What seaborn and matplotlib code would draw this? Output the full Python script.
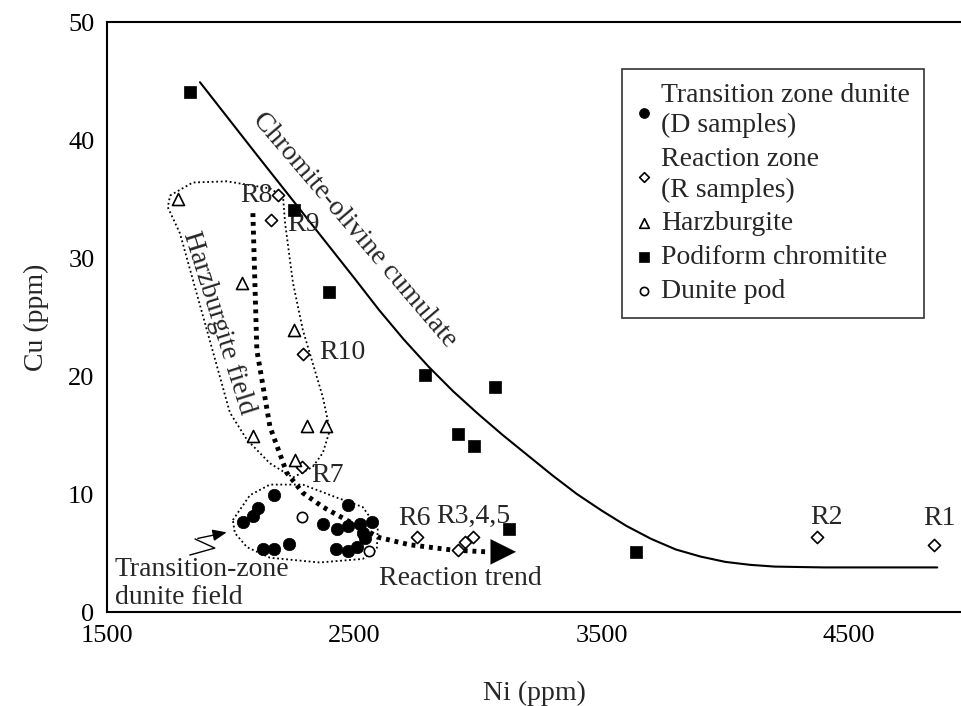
import numpy as np
import pandas as pd
import seaborn as sns
import matplotlib.pyplot as plt

sns.set_theme(style='white')
plt.rcParams['font.family'] = ['Liberation Serif', 'DejaVu Serif']

# ---- data ----
dunite_ni = [2049, 2090, 2110, 2175, 2130, 2175, 2236, 2373, 2474, 2430,
             2474, 2522, 2571, 2534, 2543, 2425, 2474, 2510]
dunite_cu = [7.6, 8.1, 8.8, 9.9, 5.3, 5.3, 5.8, 7.5, 9.1, 7.0,
             7.3, 7.5, 7.6, 6.7, 6.3, 5.3, 5.2, 5.5]

reaction_ni = [2191, 2163, 2292, 2288, 2753, 2918, 2946, 2979, 4369, 4845]
reaction_cu = [35.3, 33.2, 21.9, 12.3, 6.4, 5.25, 5.9, 6.4, 6.4, 5.7]
reaction_names = ['R8', 'R9', 'R10', 'R7', 'R6', '', '', '', 'R2', 'R1']

harz_ni = [1787, 2045, 2255, 2308, 2385, 2090, 2260]
harz_cu = [35.0, 27.9, 23.9, 15.8, 15.8, 14.9, 12.9]

chromitite_ni = [1835, 2256, 2397, 2785, 3068, 2918, 2983, 3124, 3641]
chromitite_cu = [44.1, 34.1, 27.1, 20.1, 19.1, 15.1, 14.1, 7.0, 5.1]

pod_ni = [2288, 2559]
pod_cu = [8.05, 5.2]

# chromite-olivine cumulate curve
curve_ni = [1876, 2100, 2300, 2500, 2600, 2700, 2800, 2900, 3000, 3100,
            3200, 3300, 3400, 3500, 3600, 3700, 3800, 3900, 4000, 4100,
            4200, 4400, 4857]
curve_cu = [44.9, 38.9, 33.6, 28.3, 25.6, 23.1, 20.8, 18.7, 16.8, 15.0,
            13.3, 11.6, 10.0, 8.6, 7.3, 6.2, 5.3, 4.7, 4.25, 4.0,
            3.85, 3.78, 3.78]

# reaction trend path
trend_ni = [2090, 2106, 2159, 2227, 2292, 2373, 2494, 2603, 2724, 2898, 3035]
trend_cu = [33.8, 22.2, 15.7, 11.8, 10.1, 8.9, 7.5, 6.3, 5.7, 5.25, 5.1]

# field outlines
harz_field_ni = [1755, 1847, 1985, 2159, 2212, 2220, 2252, 2292, 2373, 2401,
                 2373, 2332, 2252, 2159, 2066, 1997, 1904, 1795, 1746, 1755]
harz_field_cu = [35.3, 36.4, 36.5, 35.9, 35.2, 33.0, 27.9, 23.9, 18.2, 15.4,
                 13.5, 12.3, 11.4, 12.6, 14.6, 16.9, 23.9, 32.1, 34.3, 35.3]

dun_field_ni = [2009, 2078, 2159, 2292, 2429, 2534, 2595, 2591, 2534, 2360,
                2159, 2066, 2017, 2009]
dun_field_cu = [7.8, 9.9, 10.8, 10.8, 9.7, 8.9, 7.1, 5.3, 4.5, 4.2,
                4.6, 5.5, 6.7, 7.8]

FS = 20

fig = plt.figure(figsize=(9.61, 7.06), dpi=100)
ax = fig.add_axes([0.1113, 0.1331, 0.8887, 0.8357])

# curve and fields
ax.plot(curve_ni, curve_cu, color='black', lw=1.5, zorder=2)
ax.plot(harz_field_ni, harz_field_cu, color='black', lw=1.3,
        linestyle=(0, (1, 1.5)), zorder=2)
ax.plot(dun_field_ni, dun_field_cu, color='black', lw=1.3,
        linestyle=(0, (1, 1.5)), zorder=2)
ax.plot(trend_ni, trend_cu, color='black', lw=3.5,
        linestyle=(0, (0.8, 1.0)), zorder=2)
ax.annotate('', xy=(3165, 5.1), xytext=(3040, 5.1),
            arrowprops=dict(arrowstyle='-|>,head_length=1.3,head_width=0.65',
                            color='black', lw=0.1, mutation_scale=14),
            zorder=3)

# samples
sns.scatterplot(x=dunite_ni, y=dunite_cu, ax=ax, marker='o', s=80,
                color='black', edgecolor='black', linewidth=0.5,
                label='Transition zone dunite\n(D samples)', zorder=4)
sns.scatterplot(x=reaction_ni, y=reaction_cu, ax=ax, marker='D', s=38,
                facecolor='white', edgecolor='black', linewidth=1.2,
                label='Reaction zone\n(R samples)', zorder=4)
sns.scatterplot(x=harz_ni, y=harz_cu, ax=ax, marker='^', s=75,
                facecolor='white', edgecolor='black', linewidth=1.2,
                label='Harzburgite', zorder=4)
sns.scatterplot(x=chromitite_ni, y=chromitite_cu, ax=ax, marker='s', s=70,
                color='black', edgecolor='black', linewidth=0.5,
                label='Podiform chromitite', zorder=4)
sns.scatterplot(x=pod_ni, y=pod_cu, ax=ax, marker='o', s=55,
                facecolor='white', edgecolor='black', linewidth=1.2,
                label='Dunite pod', zorder=4)

# sample labels
label_pos = {'R8': (2105, 35.3), 'R9': (2295, 32.8), 'R10': (2450, 22.0),
             'R7': (2390, 11.6), 'R6': (2745, 7.9), 'R2': (4409, 8.0),
             'R1': (4866, 7.9)}
for name in reaction_names:
    if name:
        ax.text(*label_pos[name], name, ha='center', va='center', fontsize=FS)
ax.text(2981, 8.1, 'R3,4,5', ha='center', va='center', fontsize=FS)

# field / curve labels
ax.text(2500, 32.4, 'Chromite-olivine cumulate', rotation=-49.5,
        rotation_mode='anchor', ha='center', va='center', fontsize=FS)
ax.text(1950, 24.5, 'Harzburgite field', rotation=-72.5,
        rotation_mode='anchor', ha='center', va='center', fontsize=FS)
ax.text(2930, 2.8, 'Reaction trend', ha='center', va='center', fontsize=FS)
ax.text(1532, 2.45, 'Transition-zone\ndunite field', ha='left', va='center',
        fontsize=FS, linespacing=1.15)

# zig-zag pointer to the dunite field
ax.plot([1835, 1936, 1856], [4.83, 5.42, 6.19], color='black', lw=1.0)
ax.annotate('', xy=(1995, 6.8), xytext=(1856, 6.19),
            arrowprops=dict(arrowstyle='-|>,head_length=0.6,head_width=0.25',
                            color='black', lw=1.0, mutation_scale=14))

# axes
ax.set_xlim(1500, 4953)
ax.set_ylim(0, 50)
ax.set_xticks([1500, 2500, 3500, 4500])
ax.set_yticks([0, 10, 20, 30, 40, 50])
ax.tick_params(direction='in', length=6, width=1.2, labelsize=19,
               pad=9, colors='black')
ax.set_xlabel('Ni (ppm)', fontsize=FS, labelpad=25)
ax.set_ylabel('Cu (ppm)', fontsize=FS, labelpad=14)
for side in ['left', 'bottom', 'top']:
    ax.spines[side].set_color('black')
    ax.spines[side].set_linewidth(1.5)
ax.spines['right'].set_visible(False)

leg = ax.legend(loc='upper left', bbox_to_anchor=(0.603, 0.921),
                frameon=True, fancybox=False, edgecolor='black',
                fontsize=FS, markerscale=0.8, handletextpad=0.3,
                handlelength=0.6, labelspacing=0.3, borderpad=0.5,
                borderaxespad=0)
for t in leg.get_texts():
    t.set_linespacing(1.3)
leg.get_frame().set_linewidth(1.2)

plt.savefig('out.png', dpi=100)
